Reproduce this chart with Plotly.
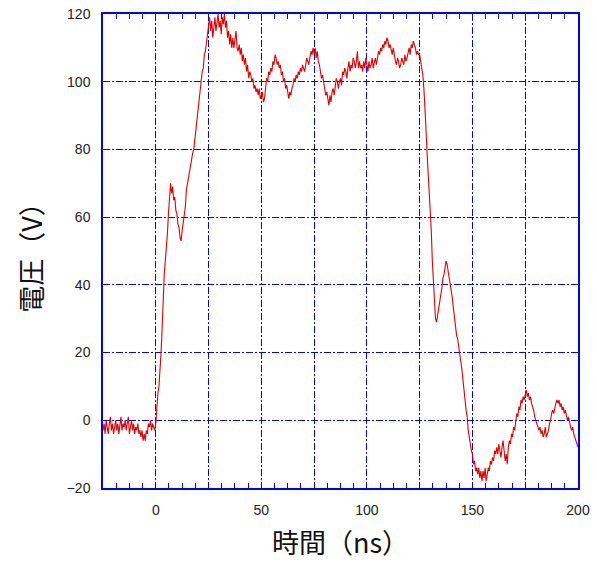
import plotly.graph_objects as go

# Sampling instants (ns): one sample every 0.5 ns from -25 to 200
time_ns = [i * 0.5 for i in range(-50, 401)]

# Measured voltage (V), 20 samples (10 ns) per row
voltage_v = [
    -3, -1, -4, 0, -2, -4, -1, 1, -3, -1, -4, -2, 0, -3, -1, -4, -2, 1, -3, -1,          # -25
    -2, 0, -3, -1, 1, -4, -2, 0, -3, -1, -4, -2, -3, -1, -4, -3, -5, -3, -6, -4,         # -15
    -6, -3, -4, -1, -2, 0, -3, -1, -2, -3, -1, 5, 8, 10, 14, 20, 27, 36, 43, 47,         # -5
    50, 55, 61, 66, 70, 67, 69, 65, 66, 62, 61, 58, 57, 54, 53, 56, 58, 61, 63, 68,      # 5
    70, 71, 74, 75, 77, 79, 80, 83, 85, 88, 92, 94, 98, 101, 103, 104, 108, 109, 112, 114,  # 15
    116, 119, 115, 118, 113, 117, 119, 115, 118, 120, 116, 118, 114, 119, 117, 120, 116, 118, 113, 115,  # 25
    111, 114, 110, 113, 110, 112, 115, 110, 109, 111, 108, 110, 106, 108, 105, 107, 103, 105, 101, 103,  # 35
    102, 100, 101, 98, 99, 97, 98, 96, 98, 95, 96, 97, 94, 95, 98, 101, 100, 103, 102, 104,  # 45
    103, 106, 105, 108, 107, 105, 106, 104, 105, 102, 103, 100, 101, 98, 99, 96, 95, 97, 96, 98,  # 55
    99, 101, 100, 102, 101, 103, 102, 104, 103, 105, 104, 103, 105, 107, 106, 105, 107, 109, 108, 110,  # 65
    108, 110, 107, 109, 106, 105, 103, 101, 102, 99, 98, 96, 97, 95, 93, 96, 94, 97, 98, 96,  # 75
    99, 101, 100, 98, 100, 101, 99, 103, 102, 104, 103, 101, 104, 106, 103, 105, 104, 107, 106, 104,  # 85
    106, 109, 104, 106, 104, 105, 103, 106, 104, 107, 105, 103, 106, 104, 105, 107, 104, 106, 107, 105,  # 95
    107, 109, 108, 110, 109, 111, 110, 112, 111, 113, 112, 110, 111, 109, 108, 110, 107, 106, 105, 107,  # 105
    106, 104, 105, 107, 106, 105, 108, 106, 107, 109, 110, 108, 111, 110, 112, 111, 110, 108, 109, 108,  # 115
    108, 106, 104, 102, 98, 93, 86, 79, 73, 68, 64, 56, 47, 42, 34, 30, 29, 31, 32, 35,  # 125
    37, 39, 42, 43, 45, 47, 46, 44, 43, 40, 38, 36, 33, 30, 28, 25, 24, 22, 20, 17,  # 135
    15, 12, 8, 6, 3, 1, -3, -6, -7, -9, -10, -13, -12, -15, -14, -16, -14, -17, -15, -18,  # 145
    -15, -17, -14, -18, -16, -14, -15, -12, -13, -11, -12, -9, -10, -8, -10, -7, -9, -11, -8, -6,  # 155
    -9, -12, -10, -13, -8, -6, -7, -4, -5, -2, -3, 0, 2, 1, 4, 3, 6, 5, 7, 6,  # 165
    8, 9, 7, 8, 6, 7, 5, 4, 3, 1, 0, -1, -2, -3, -2, -4, -3, -5, -4, -2,  # 175
    -5, -4, -3, -1, 0, 2, 3, 2, 4, 5, 6, 5, 6, 4, 5, 3, 4, 2, 3, 1,  # 185
    0, 1, -1, -2, -3, -2, -4, -5, -6, -7, -8,  # 195
]
assert len(voltage_v) == len(time_ns)

x_grid_vals = [-25, 0, 25, 50, 75, 100, 125, 150, 175, 200]
x_grid_text = ["", "0", "", "50", "", "100", "", "150", "", "200"]
y_tick_vals = [-20, 0, 20, 40, 60, 80, 100, 120]

x_title = "時間（ns）"
y_title = "電圧（V）"

blue = "#0000ff"

fig = go.Figure()
fig.add_trace(go.Scatter(
    x=time_ns, y=voltage_v, mode="lines",
    line=dict(color="#e00000", width=1.1),
    showlegend=False,
))

axis_common = dict(
    showline=True, linecolor=blue, linewidth=1.5, mirror="ticks",
    ticks="inside", ticklen=5, tickcolor=blue, tickwidth=1,
    showgrid=True, gridcolor=blue, gridwidth=1, griddash="7px,2px,2px,2px",
    zeroline=False, automargin=False,
    tickfont=dict(family="Liberation Sans, Arial, sans-serif", size=14, color="#222"),
)

fig.update_xaxes(
    **axis_common,
    range=[-25, 200],
    tickmode="array", tickvals=x_grid_vals, ticktext=x_grid_text,
    minor=dict(dtick=6.25, tick0=0, ticks="inside", ticklen=5,
               tickcolor=blue, showgrid=False),
    ticklabelstandoff=8,
    title=dict(text=x_title, standoff=18,
               font=dict(family="Noto Sans CJK JP", size=27, color="#111")),
)
fig.update_yaxes(
    **axis_common,
    range=[-20, 120],
    tickmode="array", tickvals=y_tick_vals,
    ticklabelstandoff=8,
    title=dict(text=y_title, standoff=16,
               font=dict(family="Noto Sans CJK JP", size=27, color="#111")),
)

fig.update_layout(
    width=597, height=564,
    margin=dict(l=103, r=19, t=14, b=76),
    paper_bgcolor="white", plot_bgcolor="white",
)

fig.write_html("out.html")
